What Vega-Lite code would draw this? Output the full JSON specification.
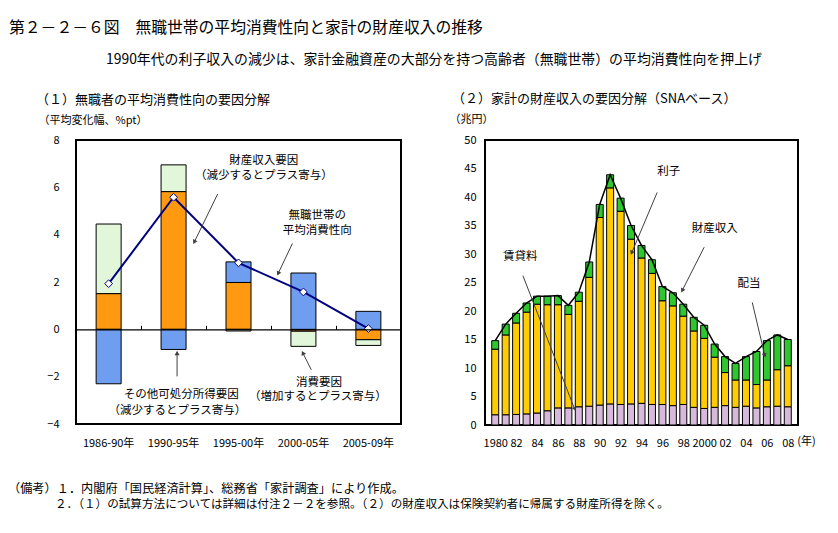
{
  "$schema": "https://vega.github.io/schema/vega-lite/v6.json",
  "background": "white",
  "padding": {"left": 8, "top": 20, "right": 5, "bottom": 5},
  "config": {
    "font": "Noto Sans CJK JP",
    "view": {"stroke": "black", "strokeWidth": 2},
    "axis": {"labelFont": "Noto Sans CJK JP", "labelFontSize": 11, "labelColor": "black", "titleFont": "Noto Sans CJK JP", "titleFontWeight": "normal", "titleColor": "black", "grid": false, "domain": false, "ticks": false, "labelOverlap": false, "labelFlush": false},
    "title": {"font": "Noto Sans CJK JP", "fontWeight": "normal", "color": "black", "subtitleFont": "Noto Sans CJK JP"},
    "text": {"font": "Noto Sans CJK JP"}
  },
  "datasets": {
    "left": [
      {"period": "1986-90年", "asset": 1.51, "other": -2.30, "cons": 2.94, "apc": 1.93},
      {"period": "1990-95年", "asset": 5.82, "other": -0.85, "cons": 1.13, "apc": 5.58},
      {"period": "1995-00年", "asset": 1.98, "other": 0.87, "cons": -0.07, "apc": 2.81},
      {"period": "2000-05年", "asset": -0.08, "other": 2.38, "cons": -0.64, "apc": 1.58},
      {"period": "2005-09年", "asset": -0.44, "other": 0.76, "cons": -0.24, "apc": 0.03}
    ],
    "leftText": [
      {"x": 2.89, "y": 7.13, "label": "財産収入要因"},
      {"x": 2.89, "y": 6.49, "label": "（減少するとプラス寄与）"},
      {"x": 3.71, "y": 4.80, "label": "無職世帯の"},
      {"x": 3.71, "y": 4.16, "label": "平均消費性向"},
      {"x": 1.62, "y": -2.78, "label": "その他可処分所得要因"},
      {"x": 1.56, "y": -3.46, "label": "（減少するとプラス寄与）"},
      {"x": 3.74, "y": -2.26, "label": "消費要因"},
      {"x": 3.72, "y": -2.87, "label": "（増加するとプラス寄与）"}
    ],
    "leftArrows": [
      {"id": "a1", "x1": 2.18, "y1": 5.72, "x2": 1.82, "y2": 3.69},
      {"id": "a2", "x1": 3.33, "y1": 3.63, "x2": 3.11, "y2": 2.36},
      {"id": "a3", "x1": 1.555, "y1": -1.99, "x2": 1.555, "y2": -1.0},
      {"id": "a4", "x1": 3.62, "y1": -1.71, "x2": 3.49, "y2": -1.0}
    ],
    "right": [
      {"year": 1980, "rent": 1.8, "interest": 11.5, "dividend": 1.5, "total": 14.8},
      {"year": 1981, "rent": 1.8, "interest": 14.0, "dividend": 1.9, "total": 17.7},
      {"year": 1982, "rent": 1.85, "interest": 16.05, "dividend": 1.7, "total": 19.6},
      {"year": 1983, "rent": 1.95, "interest": 17.85, "dividend": 1.6, "total": 21.4},
      {"year": 1984, "rent": 2.1, "interest": 19.1, "dividend": 1.4, "total": 22.6},
      {"year": 1985, "rent": 2.5, "interest": 18.6, "dividend": 1.5, "total": 22.6},
      {"year": 1986, "rent": 3.0, "interest": 18.1, "dividend": 1.6, "total": 22.7},
      {"year": 1987, "rent": 3.0, "interest": 16.4, "dividend": 1.6, "total": 21.0},
      {"year": 1988, "rent": 3.2, "interest": 18.5, "dividend": 1.6, "total": 23.3},
      {"year": 1989, "rent": 3.3, "interest": 22.6, "dividend": 2.7, "total": 28.6},
      {"year": 1990, "rent": 3.5, "interest": 32.9, "dividend": 2.3, "total": 38.7},
      {"year": 1991, "rent": 3.7, "interest": 37.9, "dividend": 2.3, "total": 43.9},
      {"year": 1992, "rent": 3.6, "interest": 33.9, "dividend": 2.3, "total": 39.8},
      {"year": 1993, "rent": 3.7, "interest": 28.9, "dividend": 2.4, "total": 35.0},
      {"year": 1994, "rent": 3.8, "interest": 25.5, "dividend": 2.2, "total": 31.5},
      {"year": 1995, "rent": 3.6, "interest": 23.0, "dividend": 2.4, "total": 29.0},
      {"year": 1996, "rent": 3.6, "interest": 18.2, "dividend": 2.5, "total": 24.3},
      {"year": 1997, "rent": 3.4, "interest": 17.5, "dividend": 2.3, "total": 23.2},
      {"year": 1998, "rent": 3.6, "interest": 15.5, "dividend": 2.1, "total": 21.2},
      {"year": 1999, "rent": 3.1, "interest": 13.4, "dividend": 2.4, "total": 18.9},
      {"year": 2000, "rent": 2.9, "interest": 12.3, "dividend": 2.3, "total": 17.5},
      {"year": 2001, "rent": 3.1, "interest": 8.8, "dividend": 2.3, "total": 14.2},
      {"year": 2002, "rent": 3.4, "interest": 5.8, "dividend": 2.8, "total": 12.0},
      {"year": 2003, "rent": 3.1, "interest": 4.8, "dividend": 2.9, "total": 10.8},
      {"year": 2004, "rent": 3.3, "interest": 4.6, "dividend": 4.1, "total": 12.0},
      {"year": 2005, "rent": 3.0, "interest": 4.1, "dividend": 5.8, "total": 12.9},
      {"year": 2006, "rent": 3.2, "interest": 4.7, "dividend": 6.9, "total": 14.8},
      {"year": 2007, "rent": 3.3, "interest": 6.4, "dividend": 6.1, "total": 15.8},
      {"year": 2008, "rent": 3.2, "interest": 7.2, "dividend": 4.6, "total": 15.0}
    ],
    "rightText": [
      {"year": 1996.6, "v": 44.4, "label": "利子"},
      {"year": 2001.0, "v": 34.4, "label": "財産収入"},
      {"year": 2004.3, "v": 24.7, "label": "配当"},
      {"year": 1982.4, "v": 29.5, "label": "賃貸料"}
    ],
    "rightUnit": [
      {"year": 2009.8, "v": -3.0, "label": "(年)"}
    ],
    "rightArrows": [
      {"id": "b1", "x1": 1995.5, "y1": 40.8, "x2": 1993.06, "y2": 30.2},
      {"id": "b2", "x1": 2000.0, "y1": 31.2, "x2": 1997.9, "y2": 23.6},
      {"id": "b3", "x1": 2004.6, "y1": 21.5, "x2": 2005.8, "y2": 12.2},
      {"id": "b4", "x1": 1982.65, "y1": 26.2, "x2": 1987.6, "y2": 2.8}
    ]
  },
  "title": {"text": "第２－２－６図　無職世帯の平均消費性向と家計の財産収入の推移", "anchor": "start", "fontSize": 15.8, "offset": 16, "dx": 1},
  "vconcat": [
    {
      "title": {"text": "２．（１）の試算方法については詳細は付注２－２を参照。（２）の財産収入は保険契約者に帰属する財産所得を除く。", "orient": "bottom", "anchor": "start", "fontSize": 11.6, "offset": 4, "dx": 47},
      "vconcat": [
        {
          "title": {"text": "（備考）１．内閣府「国民経済計算」、総務省「家計調査」により作成。", "orient": "bottom", "anchor": "start", "fontSize": 12.2, "offset": 34, "dx": -27},
          "vconcat": [
            {
              "title": {"text": "1990年代の利子収入の減少は、家計金融資産の大部分を持つ高齢者（無職世帯）の平均消費性向を押上げ", "anchor": "start", "fontSize": 13.9, "offset": 25, "dx": 71},
              "spacing": 45,
              "resolve": {"scale": {"color": "independent"}},
              "hconcat": [
                {
                  "width": 325,
                  "height": 284,
                  "title": {"text": "（１）無職者の平均消費性向の要因分解", "anchor": "start", "frame": "group", "dx": -40, "fontSize": 13, "offset": 7},
                  "resolve": {"scale": {"x": "independent"}},
                  "layer": [
                    {
                      "layer": [
                        {
                          "data": {"name": "left"},
                          "transform": [{"fold": ["asset", "other", "cons"], "as": ["factor", "value"]}],
                          "mark": {"type": "bar", "stroke": "black", "strokeWidth": 1},
                          "encoding": {
                            "x": {"field": "period", "type": "nominal", "sort": null, "scale": {"paddingInner": 0.615, "paddingOuter": 0.31}, "axis": {"title": null, "labelAngle": 0, "labelPadding": 13, "labelFontSize": 11}},
                            "y": {"field": "value", "type": "quantitative", "stack": "zero", "scale": {"domain": [-4, 8], "nice": false, "zero": false}, "axis": {"values": [-4, -2, 0, 2, 4, 6, 8], "labelOverlap": false, "labelFlush": false, "title": "（平均変化幅、%pt）", "titleAngle": 0, "titleAlign": "left", "titleBaseline": "middle", "titleX": -38, "titleY": -20, "titleFontSize": 11, "labelPadding": 17}},
                            "color": {"field": "factor", "type": "nominal", "scale": {"domain": ["asset", "other", "cons"], "range": ["#FF9A10", "#6F9EF0", "#E2F6D9"]}, "legend": null},
                            "order": {"field": "factor", "sort": "ascending"}
                          }
                        },
                        {
                          "data": {"name": "left"},
                          "mark": {"type": "line", "color": "#000080", "strokeWidth": 2},
                          "encoding": {
                            "x": {"field": "period", "type": "nominal", "sort": null},
                            "y": {"field": "apc", "type": "quantitative", "axis": {"values": [-4, -2, 0, 2, 4, 6, 8]}}
                          }
                        },
                        {
                          "data": {"name": "left"},
                          "mark": {"type": "point", "shape": "diamond", "filled": true, "fill": "white", "stroke": "#000080", "strokeWidth": 1, "size": 60, "opacity": 1},
                          "encoding": {
                            "x": {"field": "period", "type": "nominal", "sort": null},
                            "y": {"field": "apc", "type": "quantitative", "axis": {"values": [-4, -2, 0, 2, 4, 6, 8]}}
                          }
                        }
                      ]
                    },
                    {
                      "layer": [
                        {
                          "data": {"name": "leftText"},
                          "mark": {"type": "text", "fontSize": 11.5, "align": "center", "baseline": "middle", "color": "black"},
                          "encoding": {
                            "x": {"field": "x", "type": "quantitative", "scale": {"domain": [0, 5], "nice": false, "zero": false}, "axis": {"orient": "top", "offset": -189.33, "values": [0, 1, 2, 3, 4, 5], "labels": false, "ticks": true, "tickSize": 4, "tickColor": "black", "domain": true, "domainColor": "black", "domainWidth": 1.2, "title": null, "zindex": 1}},
                            "y": {"field": "y", "type": "quantitative", "axis": {"values": [-4, -2, 0, 2, 4, 6, 8]}},
                            "text": {"field": "label"}
                          }
                        },
                        {
                          "data": {"name": "leftArrows"},
                          "mark": {"type": "rule", "color": "#404040", "strokeWidth": 1},
                          "encoding": {
                            "x": {"field": "x1", "type": "quantitative", "axis": {"values": [0, 1, 2, 3, 4, 5]}},
                            "y": {"field": "y1", "type": "quantitative", "axis": {"values": [-4, -2, 0, 2, 4, 6, 8]}},
                            "x2": {"field": "x2"},
                            "y2": {"field": "y2"}
                          }
                        },
                        {
                          "data": {"name": "leftArrows"},
                          "transform": [{"filter": "datum.id == 'a1'"}],
                          "mark": {"type": "point", "shape": "triangle-up", "filled": true, "color": "#404040", "size": 25, "opacity": 1, "angle": 206},
                          "encoding": {"x": {"field": "x2", "type": "quantitative", "axis": {"values": [0, 1, 2, 3, 4, 5]}}, "y": {"field": "y2", "type": "quantitative", "axis": {"values": [-4, -2, 0, 2, 4, 6, 8]}}}
                        },
                        {
                          "data": {"name": "leftArrows"},
                          "transform": [{"filter": "datum.id == 'a2'"}],
                          "mark": {"type": "point", "shape": "triangle-up", "filled": true, "color": "#404040", "size": 25, "opacity": 1, "angle": 206},
                          "encoding": {"x": {"field": "x2", "type": "quantitative", "axis": {"values": [0, 1, 2, 3, 4, 5]}}, "y": {"field": "y2", "type": "quantitative", "axis": {"values": [-4, -2, 0, 2, 4, 6, 8]}}}
                        },
                        {
                          "data": {"name": "leftArrows"},
                          "transform": [{"filter": "datum.id == 'a3'"}],
                          "mark": {"type": "point", "shape": "triangle-up", "filled": true, "color": "#404040", "size": 25, "opacity": 1, "angle": 0},
                          "encoding": {"x": {"field": "x2", "type": "quantitative", "axis": {"values": [0, 1, 2, 3, 4, 5]}}, "y": {"field": "y2", "type": "quantitative", "axis": {"values": [-4, -2, 0, 2, 4, 6, 8]}}}
                        },
                        {
                          "data": {"name": "leftArrows"},
                          "transform": [{"filter": "datum.id == 'a4'"}],
                          "mark": {"type": "point", "shape": "triangle-up", "filled": true, "color": "#404040", "size": 25, "opacity": 1, "angle": 334},
                          "encoding": {"x": {"field": "x2", "type": "quantitative", "axis": {"values": [0, 1, 2, 3, 4, 5]}}, "y": {"field": "y2", "type": "quantitative", "axis": {"values": [-4, -2, 0, 2, 4, 6, 8]}}}
                        }
                      ]
                    }
                  ]
                },
                {
                  "width": 313,
                  "height": 285,
                  "title": {"text": "（２）家計の財産収入の要因分解（SNAベース）", "anchor": "start", "frame": "group", "dx": -33, "fontSize": 13, "offset": 7},
                  "layer": [
                    {
                      "data": {"name": "right"},
                      "transform": [{"fold": ["rent", "interest", "dividend"], "as": ["kind", "value"]}],
                      "mark": {"type": "bar", "stroke": "black", "strokeWidth": 1, "width": 7},
                      "encoding": {
                        "x": {"field": "year", "type": "quantitative", "scale": {"domain": [1979.5, 2008.5], "nice": false, "zero": false}, "axis": {"values": [1980, 1982, 1984, 1986, 1988, 1990, 1992, 1994, 1996, 1998, 2000, 2002, 2004, 2006, 2008], "labelOverlap": false, "labelFlush": false, "labelExpr": "datum.value == 1980 || datum.value == 2000 ? '' + datum.value : substring('' + datum.value, 2, 4)", "title": null, "labelPadding": 12, "labelFontSize": 11}},
                        "y": {"field": "value", "type": "quantitative", "stack": "zero", "scale": {"domain": [0, 50], "nice": false}, "axis": {"values": [0, 5, 10, 15, 20, 25, 30, 35, 40, 45, 50], "labelOverlap": false, "labelFlush": false, "title": "（兆円）", "titleAngle": 0, "titleAlign": "left", "titleBaseline": "middle", "titleX": -36, "titleY": -21, "titleFontSize": 11, "labelPadding": 9}},
                        "color": {"field": "kind", "type": "nominal", "scale": {"domain": ["rent", "interest", "dividend"], "range": ["#D7B9DB", "#FFCC00", "#2EC72E"]}, "legend": null},
                        "order": {"field": "kind", "sort": "descending"}
                      }
                    },
                    {
                      "data": {"name": "right"},
                      "mark": {"type": "line", "color": "black", "strokeWidth": 1.5},
                      "encoding": {
                        "x": {"field": "year", "type": "quantitative", "axis": {"values": [1980, 1982, 1984, 1986, 1988, 1990, 1992, 1994, 1996, 1998, 2000, 2002, 2004, 2006, 2008]}},
                        "y": {"field": "total", "type": "quantitative", "axis": {"values": [0, 5, 10, 15, 20, 25, 30, 35, 40, 45, 50]}}
                      }
                    },
                    {
                      "data": {"name": "rightText"},
                      "mark": {"type": "text", "fontSize": 11.5, "align": "center", "baseline": "middle", "color": "black"},
                      "encoding": {
                        "x": {"field": "year", "type": "quantitative", "axis": {"values": [1980, 1982, 1984, 1986, 1988, 1990, 1992, 1994, 1996, 1998, 2000, 2002, 2004, 2006, 2008]}},
                        "y": {"field": "v", "type": "quantitative", "axis": {"values": [0, 5, 10, 15, 20, 25, 30, 35, 40, 45, 50]}},
                        "text": {"field": "label"}
                      }
                    },
                    {
                      "data": {"name": "rightUnit"},
                      "mark": {"type": "text", "fontSize": 11, "align": "center", "baseline": "middle", "color": "black"},
                      "encoding": {
                        "x": {"field": "year", "type": "quantitative", "axis": {"values": [1980, 1982, 1984, 1986, 1988, 1990, 1992, 1994, 1996, 1998, 2000, 2002, 2004, 2006, 2008]}},
                        "y": {"field": "v", "type": "quantitative", "axis": {"values": [0, 5, 10, 15, 20, 25, 30, 35, 40, 45, 50]}},
                        "text": {"field": "label"}
                      }
                    },
                    {
                      "data": {"name": "rightArrows"},
                      "mark": {"type": "rule", "color": "#404040", "strokeWidth": 1},
                      "encoding": {
                        "x": {"field": "x1", "type": "quantitative", "axis": {"values": [1980, 1982, 1984, 1986, 1988, 1990, 1992, 1994, 1996, 1998, 2000, 2002, 2004, 2006, 2008]}},
                        "y": {"field": "y1", "type": "quantitative", "axis": {"values": [0, 5, 10, 15, 20, 25, 30, 35, 40, 45, 50]}},
                        "x2": {"field": "x2"},
                        "y2": {"field": "y2"}
                      }
                    },
                    {
                      "data": {"name": "rightArrows"},
                      "transform": [{"filter": "datum.id == 'b1'"}],
                      "mark": {"type": "point", "shape": "triangle-up", "filled": true, "color": "#404040", "size": 25, "opacity": 1, "angle": 204},
                      "encoding": {"x": {"field": "x2", "type": "quantitative", "axis": {"values": [1980, 1982, 1984, 1986, 1988, 1990, 1992, 1994, 1996, 1998, 2000, 2002, 2004, 2006, 2008]}}, "y": {"field": "y2", "type": "quantitative", "axis": {"values": [0, 5, 10, 15, 20, 25, 30, 35, 40, 45, 50]}}}
                    },
                    {
                      "data": {"name": "rightArrows"},
                      "transform": [{"filter": "datum.id == 'b2'"}],
                      "mark": {"type": "point", "shape": "triangle-up", "filled": true, "color": "#404040", "size": 25, "opacity": 1, "angle": 207},
                      "encoding": {"x": {"field": "x2", "type": "quantitative", "axis": {"values": [1980, 1982, 1984, 1986, 1988, 1990, 1992, 1994, 1996, 1998, 2000, 2002, 2004, 2006, 2008]}}, "y": {"field": "y2", "type": "quantitative", "axis": {"values": [0, 5, 10, 15, 20, 25, 30, 35, 40, 45, 50]}}}
                    },
                    {
                      "data": {"name": "rightArrows"},
                      "transform": [{"filter": "datum.id == 'b3'"}],
                      "mark": {"type": "point", "shape": "triangle-up", "filled": true, "color": "#404040", "size": 25, "opacity": 1, "angle": 166},
                      "encoding": {"x": {"field": "x2", "type": "quantitative", "axis": {"values": [1980, 1982, 1984, 1986, 1988, 1990, 1992, 1994, 1996, 1998, 2000, 2002, 2004, 2006, 2008]}}, "y": {"field": "y2", "type": "quantitative", "axis": {"values": [0, 5, 10, 15, 20, 25, 30, 35, 40, 45, 50]}}}
                    },
                    {
                      "data": {"name": "rightArrows"},
                      "transform": [{"filter": "datum.id == 'b4'"}],
                      "mark": {"type": "point", "shape": "triangle-up", "filled": true, "color": "#404040", "size": 20, "opacity": 1, "angle": 158},
                      "encoding": {"x": {"field": "x2", "type": "quantitative", "axis": {"values": [1980, 1982, 1984, 1986, 1988, 1990, 1992, 1994, 1996, 1998, 2000, 2002, 2004, 2006, 2008]}}, "y": {"field": "y2", "type": "quantitative", "axis": {"values": [0, 5, 10, 15, 20, 25, 30, 35, 40, 45, 50]}}}
                    }
                  ]
                }
              ]
            }
          ]
        }
      ]
    }
  ]
}
